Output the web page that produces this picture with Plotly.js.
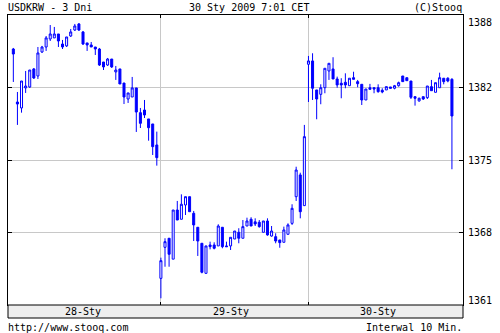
<!DOCTYPE html>
<html>
<head>
<meta charset="utf-8">
<script src="https://cdn.plot.ly/plotly-3.0.1.min.js"></script>
<style>
  html, body { margin: 0; padding: 0; background: #ffffff; }
  #chart { width: 500px; height: 333px; }
</style>
</head>
<body>
<div id="chart"></div>
<script>
// ---- data ----
const days = ['28-Sty', '29-Sty', '30-Sty'];
const barsPerDay = 36; // 10-minute bars, 09:00 .. 14:50

const open28  = [1385.21,1380.24,1379.68,1381.56,1381.65,1383.34,1382.68,1384.93,1385.4,1386.15,1386.25,1386.62,1385.68,1385.5,1386.43,1386.99,1387.56,1386.81,1385.78,1385.59,1385.4,1385.21,1383.99,1383.71,1384.27,1383.06,1383.34,1382.02,1380.52,1380.71,1381.56,1379.24,1379.49,1378.65,1378.18,1376.21];
const high28  = [1385.31,1381.18,1382.21,1383.15,1383.24,1383.43,1385.4,1385.5,1386.43,1387.46,1387.28,1386.62,1386.06,1386.34,1387.09,1387.56,1387.65,1386.9,1385.78,1385.87,1385.4,1385.31,1383.99,1384.37,1384.27,1383.62,1383.34,1382.02,1381.09,1382.59,1381.56,1379.68,1380.43,1378.65,1378.18,1377.46];
const low28   = [1382.12,1378.09,1379.24,1381.09,1381.56,1382.4,1382.4,1384.84,1385.03,1385.96,1386.25,1385.4,1385.21,1385.4,1386.34,1386.9,1386.9,1385.59,1385.03,1385.4,1384.65,1383.62,1383.24,1383.62,1383.43,1382.31,1381.93,1380.05,1380.15,1380.71,1377.43,1377.8,1378.74,1376.61,1375.27,1374.27];
const close28 = [1384.74,1380.05,1382.21,1381.74,1383.24,1382.49,1384.84,1385.4,1386.25,1386.62,1386.62,1385.96,1385.4,1386.34,1386.81,1387.37,1386.99,1385.68,1385.59,1385.4,1385.21,1383.71,1383.53,1384.27,1383.53,1383.24,1381.93,1380.71,1381.09,1381.56,1379.3,1378.24,1379.02,1377.83,1376.05,1375.02];

const open29  = [1363.7,1366.61,1367.46,1365.5,1370.11,1369.24,1370.58,1371.36,1369.8,1368.49,1366.99,1364.17,1366.83,1366.83,1366.74,1368.49,1366.74,1366.74,1367.39,1368.02,1367.46,1368.61,1369.24,1369.0,1368.96,1368.02,1369.08,1367.67,1367.61,1367.3,1367.08,1367.83,1368.86,1371.36,1373.4,1370.52];
const high29  = [1365.64,1367.46,1367.46,1370.11,1370.96,1371.58,1371.36,1371.36,1370.02,1368.49,1366.99,1366.74,1367.14,1367.08,1368.77,1368.49,1367.14,1367.55,1368.14,1368.4,1369.17,1369.39,1369.43,1369.33,1369.17,1369.08,1369.33,1368.61,1367.93,1367.3,1368.55,1368.86,1370.65,1374.17,1373.61,1378.09];
const low29   = [1361.83,1364.79,1364.79,1365.5,1369.17,1369.24,1369.64,1369.95,1367.2,1365.8,1364.17,1364.17,1366.42,1366.42,1366.74,1366.52,1366.67,1366.36,1367.39,1366.99,1367.46,1368.61,1368.61,1368.61,1368.45,1368.02,1367.7,1367.61,1366.99,1366.57,1367.08,1367.83,1368.71,1370.96,1369.33,1370.52];
const close29 = [1365.36,1367.14,1365.96,1370.11,1369.17,1370.65,1371.36,1369.95,1368.71,1367.2,1364.27,1366.74,1366.67,1366.52,1368.61,1366.67,1366.67,1367.55,1368.14,1367.46,1368.55,1369.08,1368.61,1368.8,1368.55,1369.08,1367.77,1368.14,1367.2,1367.05,1368.24,1368.71,1370.27,1373.86,1369.95,1376.99];

const open30  = [1383.78,1384.09,1381.37,1380.96,1381.58,1383.15,1383.34,1382.4,1382.0,1382.09,1381.77,1382.52,1382.15,1381.9,1380.43,1381.58,1381.58,1381.58,1381.34,1381.37,1381.65,1381.53,1381.77,1382.68,1382.52,1382.21,1380.74,1380.34,1380.74,1380.65,1381.68,1381.15,1381.58,1382.47,1382.47,1382.37];
const high30  = [1384.56,1384.81,1381.37,1381.9,1383.4,1383.87,1384.44,1382.62,1382.47,1382.93,1382.47,1383.08,1382.31,1381.9,1381.46,1381.94,1381.58,1381.9,1381.53,1381.68,1381.65,1381.84,1382.15,1382.68,1382.52,1382.21,1380.74,1380.65,1380.74,1381.74,1382.31,1382.05,1382.99,1382.47,1382.56,1382.47];
const low30   = [1380.24,1380.43,1378.62,1380.03,1381.06,1382.31,1382.4,1381.58,1380.59,1381.53,1381.77,1382.37,1381.62,1379.96,1380.43,1381.43,1381.06,1381.11,1381.06,1381.37,1381.53,1381.43,1381.68,1382.15,1382.24,1380.52,1379.9,1380.27,1380.43,1380.52,1381.3,1381.15,1381.58,1381.9,1382.09,1373.93];
const close30 = [1384.09,1381.53,1380.52,1381.58,1383.4,1383.87,1382.4,1381.84,1381.84,1381.84,1382.47,1382.37,1381.96,1380.43,1381.46,1381.43,1381.46,1381.21,1381.18,1381.68,1381.53,1381.77,1382.05,1382.15,1382.24,1380.68,1380.59,1380.59,1380.52,1381.74,1381.3,1382.05,1382.52,1382.15,1382.21,1378.93];

const yTickVals = [1361.2, 1368.0, 1374.8, 1381.6, 1388.4];
const yTickText = ['1361', '1368', '1375', '1382', '1388'];

const headerLeft = 'USDKRW - 3 Dni';
const headerMid = '30 Sty 2009 7:01 CET';
const headerRight = '(C)Stooq';
const footerLeft = 'http://www.stooq.com';
const footerRight = 'Interwal 10 Min.';

// ---- build ----
const times = [];
days.forEach(d => {
  for (let k = 0; k < barsPerDay; k++) {
    const m = 9 * 60 + 10 * k;
    const hh = String(Math.floor(m / 60)).padStart(2, '0');
    const mm = String(m % 60).padStart(2, '0');
    times.push(d + ' ' + hh + ':' + mm);
  }
});
const open = open28.concat(open29, open30);
const high = high28.concat(high29, high30);
const low = low28.concat(low29, low30);
const close = close28.concat(close29, close30);

const BLUE = '#0000ff';
const FONT = 'DejaVu Sans Mono, Liberation Mono, monospace';
const plotL = 8, plotR = 463, plotT = 15, plotB = 305;
const pw = plotR - plotL, ph = plotB - plotT;
const px = x => (x - plotL) / pw;
const py = y => (plotB - y) / ph;

const trace = {
  type: 'candlestick',
  x: times, open: open, high: high, low: low, close: close,
  increasing: { line: { color: BLUE, width: 1 }, fillcolor: '#ffffff' },
  decreasing: { line: { color: BLUE, width: 1 }, fillcolor: BLUE },
  whiskerwidth: 0,
  hoverinfo: 'none',
  showlegend: false
};

const annotations = [];
const txt = (text, x, y, xanchor, xref) => ({
  text: text, x: x, y: y, xref: xref || 'paper', yref: 'paper',
  xanchor: xanchor, yanchor: 'middle', showarrow: false,
  font: { family: FONT, size: 10, color: '#000000' }, borderpad: 0
});
annotations.push(txt(headerLeft, px(7), py(7.5), 'left'));
annotations.push(txt(headerMid, px(249), py(7.5), 'center'));
annotations.push(txt(headerRight, px(463), py(7.5), 'right'));
annotations.push(txt(footerLeft, px(7), py(327), 'left'));
annotations.push(txt(footerRight, px(463), py(327), 'right'));
days.forEach((d, i) => {
  annotations.push(txt(d, times[i * barsPerDay + 17] , py(311.7), 'center', 'x'));
});
yTickVals.forEach((v, i) => {
  annotations.push({
    text: yTickText[i], x: 1, y: v, xref: 'paper', yref: 'y',
    xanchor: 'left', yanchor: 'middle', xshift: 4,
    yshift: i === 0 ? 5 : (i === yTickVals.length - 1 ? -7 : 0),
    showarrow: false, borderpad: 0,
    font: { family: FONT, size: 10, color: '#000000' }
  });
});

const layout = {
  width: 500, height: 333,
  margin: { l: plotL, r: 500 - plotR, t: plotT, b: 333 - plotB },
  paper_bgcolor: '#ffffff', plot_bgcolor: '#ffffff',
  showlegend: false,
  font: { family: FONT, size: 10, color: '#000000' },
  xaxis: {
    type: 'category',
    range: [-1.3, 109.7],
    tickvals: [times[barsPerDay], times[2 * barsPerDay]],
    showticklabels: false,
    ticks: 'inside', ticklen: 3, tickcolor: '#000000', tickwidth: 1,
    showgrid: true, gridcolor: '#c8c8c8', gridwidth: 1,
    showline: true, linecolor: '#000000', linewidth: 1, mirror: 'ticks',
    zeroline: false,
    rangeslider: { visible: false },
    fixedrange: true
  },
  yaxis: {
    range: [yTickVals[0], yTickVals[yTickVals.length - 1]],
    tickvals: yTickVals,
    showticklabels: false,
    ticks: 'inside', ticklen: 4, tickcolor: '#000000', tickwidth: 1,
    showgrid: true, gridcolor: '#c8c8c8', gridwidth: 1,
    showline: true, linecolor: '#000000', linewidth: 1, mirror: 'ticks',
    zeroline: false, side: 'right',
    fixedrange: true
  },
  shapes: [{
    type: 'rect', xref: 'paper', yref: 'paper',
    x0: 0, x1: 1, y0: py(318), y1: 0,
    fillcolor: '#eeeeee', line: { color: '#000000', width: 1 }, layer: 'above'
  }],
  annotations: annotations
};

Plotly.newPlot('chart', [trace], layout, { staticPlot: true, displayModeBar: false });
</script>
</body>
</html>
